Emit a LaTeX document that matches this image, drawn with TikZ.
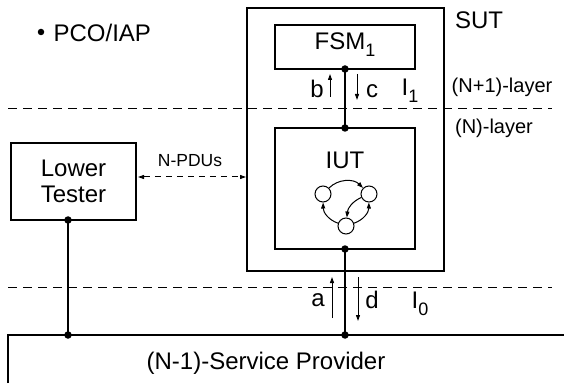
\documentclass[tikz,border=0pt]{standalone}
\usepackage{fontspec}
\setmainfont{Liberation Sans}
\usetikzlibrary{arrows.meta}
\newcommand\mysub[1]{\raisebox{-0.55ex}{\fontsize{18}{18}\selectfont #1}}
\begin{document}
\begin{tikzpicture}[x=1pt,y=1pt,
  line width=1.2pt,
  big/.style={font=\fontsize{24}{26}\selectfont, inner sep=0pt},
  mid/.style={font=\fontsize{20}{22}\selectfont, inner sep=0pt},
  small/.style={font=\fontsize{17.5}{20}\selectfont, inner sep=0pt},
  dot/.style={circle, fill=black, inner sep=0pt, minimum size=7.5pt},
  dashline/.style={dash pattern=on 9pt off 6pt, line width=1pt},
  tip/.style={-{Triangle[length=6pt,width=4pt]}, line width=1pt},
  st/.style={circle, draw, line width=1pt, minimum size=16pt, inner sep=0pt}]
\useasboundingbox (0,0) rectangle (564,383);
% SUT
\draw (247,112) rectangle (444,375);
\node[big] (sut) at (479,363) {SUT};
% FSM box
\draw (275,314) rectangle (415,358);
\node[big] (fsm) at (345,338) {FSM\mysub{1}};
% IUT box
\draw (275,134) rectangle (415,255);
\node[big] (iut) at (345,223) {IUT};
% dots
\node[dot] (d1) at (345,314) {};
\node[dot] (d2) at (345,255) {};
\node[dot] (d3) at (345,134) {};
\node[dot] (d4) at (345,48) {};
\node[dot] (d5) at (68,48) {};
\node[dot] (d6) at (68,163) {};
\draw (d1.center) -- (d2.center);
\draw (d3.center) -- (d4.center);
\draw (d6.center) -- (d5.center);
% dashed layer lines
\coordinate (u1) at (8,274); \coordinate (u2) at (552,274);
\coordinate (l1) at (8,96); \coordinate (l2) at (552,96);
\draw[dashline] (u1) -- (u2);
\draw[dashline] (l1) -- (l2);
% service provider
\coordinate (sp1) at (8,0); \coordinate (sp2) at (8,48); \coordinate (sp3) at (564,48);
\draw (sp1) -- (sp2) -- (sp3);
\node[big] (sp) at (266,20) {(N-1)-Service Provider};
% lower tester
\draw (11,163) rectangle (136,240);
\node[big, align=center] (lt) at (73.5,201.5) {Lower\\Tester};
% N-PDUs
\coordinate (n1) at (138,206); \coordinate (n2) at (246,206);
\draw[dashline, {Triangle[length=6pt,width=4pt]}-{Triangle[length=6pt,width=4pt]}, dash pattern=on 6pt off 5pt] (n1) -- (n2);
\node[small] (npdu) at (190,222) {N-PDUs};
% b c arrows
\coordinate (b1) at (330,286); \coordinate (b2) at (330,309);
\coordinate (c1) at (357,309); \coordinate (c2) at (357,283);
\draw[tip] (b1) -- (b2);
\draw[tip] (c1) -- (c2);
\node[big] (lb) at (317,294) {b};
\node[big] (lc) at (372,292) {c};
\node[big] (li1) at (410,292) {I\mysub{1}};
\node[mid] (nl1) at (502,296) {(N+1)-layer};
\node[mid] (nl0) at (494,255) {(N)-layer};
% a d arrows
\coordinate (a1) at (332,65); \coordinate (a2) at (332,106);
\coordinate (e1) at (358,106); \coordinate (e2) at (358,62);
\draw[tip] (a1) -- (a2);
\draw[tip] (e1) -- (e2);
\node[big] (la) at (318,83) {a};
\node[big] (ld) at (372,83) {d};
\node[big] (li0) at (420,79) {I\mysub{0}};
% PCO/IAP
\node[dot, minimum size=6.5pt] (bul) at (41,351) {};
\node[big, anchor=west] (pco) at (53,350) {PCO/IAP};
% state machine
\node[st] (s1) at (323,189) {};
\node[st] (s2) at (369,189) {};
\node[st] (s3) at (346,157) {};
\draw[tip] (s1) to[bend left=45] (s2);
\draw[tip] (s2) to[bend right=30] (s3);
\draw[tip] (s3) to[bend right=35] (s2);
\draw[tip] (s3) to[bend left=35] (s1);
\end{tikzpicture}
\end{document}
